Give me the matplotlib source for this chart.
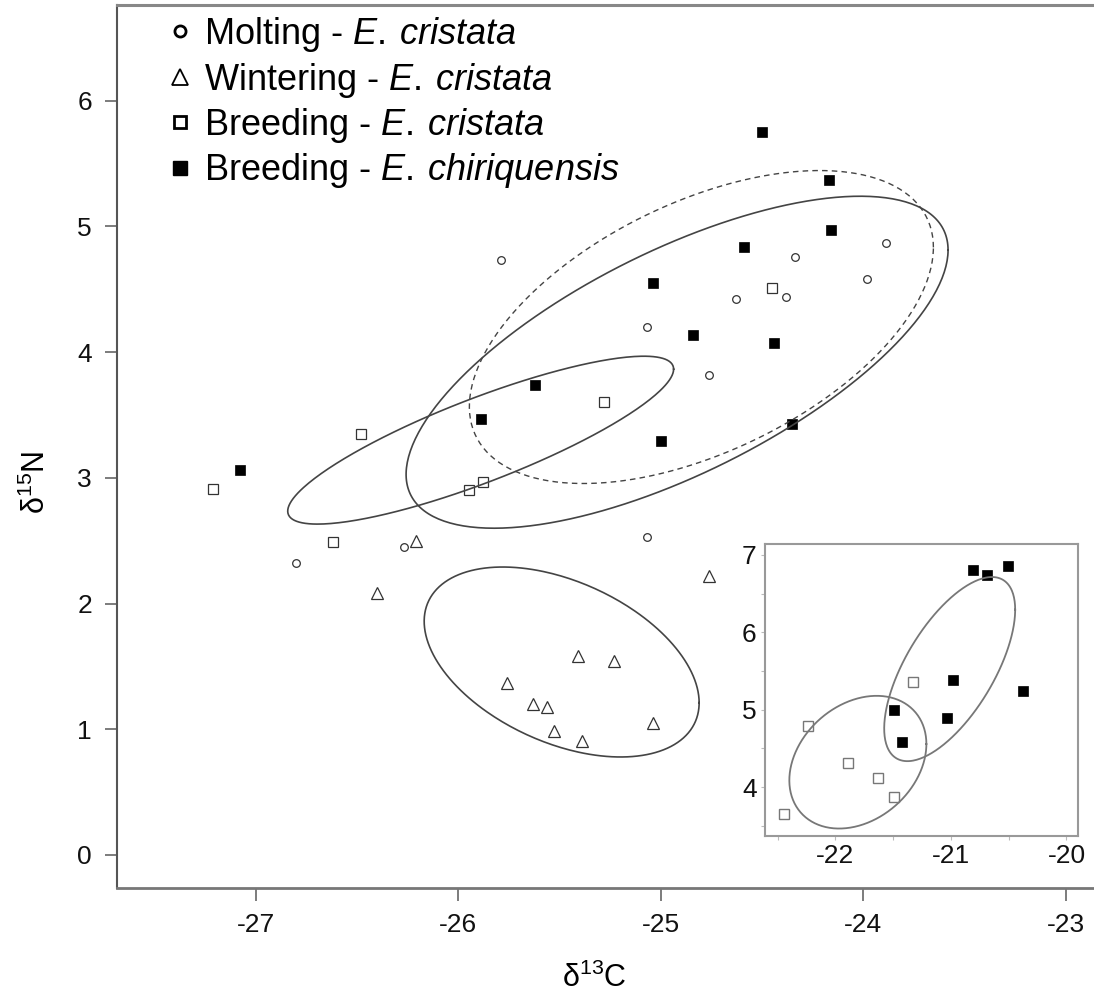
import numpy as np
import matplotlib
matplotlib.use("Agg")
import matplotlib.pyplot as plt
from matplotlib.lines import Line2D

plt.rcParams['font.family'] = ['Liberation Sans', 'DejaVu Sans']
plt.rcParams['mathtext.fontset'] = 'custom'
plt.rcParams['mathtext.rm'] = 'Liberation Sans'
plt.rcParams['mathtext.it'] = 'Liberation Sans:italic'
plt.rcParams['axes.unicode_minus'] = False

# main panel data (d13C, d15N)
molt_x = [-26.80, -26.27, -25.07, -25.07, -25.79, -24.34, -23.89, -23.98, -24.63, -24.38, -24.76]
molt_y = [2.32, 2.45, 2.53, 4.20, 4.73, 4.76, 4.87, 4.58, 4.42, 4.44, 3.82]

wint_x = [-26.40, -26.21, -24.76, -25.41, -25.23, -25.76, -25.63, -25.56, -25.53, -25.39, -25.04]
wint_y = [2.08, 2.50, 2.22, 1.58, 1.54, 1.37, 1.20, 1.18, 0.99, 0.91, 1.05]

bcri_x = [-27.21, -26.48, -26.62, -25.95, -25.88, -25.28, -24.45]
bcri_y = [2.91, 3.35, 2.49, 2.90, 2.97, 3.60, 4.51]

bchi_x = [-27.08, -25.89, -25.62, -25.00, -24.50, -24.17, -24.16, -24.59, -25.04, -24.84, -24.44, -24.35]
bchi_y = [3.06, 3.47, 3.74, 3.29, 5.75, 5.37, 4.97, 4.84, 4.55, 4.14, 4.07, 3.43]

# ellipses: centre and covariance (sxx, syy, sxy)
ell_bchi = [(-24.92, 3.92), (1.791, 1.744, 1.194)]
ell_molt = [(-24.80, 4.20), (1.313, 1.550, 0.726)]
ell_bcri = [(-25.89, 3.30), (0.908, 0.446, 0.538)]
ell_wint = [(-25.49, 1.535), (0.461, 0.571, -0.220)]

# inset data
in_cri_x = [-22.445, -22.24, -21.89, -21.63, -21.49, -21.33]
in_cri_y = [3.65, 4.79, 4.31, 4.12, 3.87, 5.36]
in_chi_x = [-21.49, -21.42, -21.03, -20.98, -20.38, -20.81, -20.69, -20.51]
in_chi_y = [5.00, 4.58, 4.89, 5.38, 5.24, 6.81, 6.74, 6.86]
in_ell_cri = [(-21.806, 4.323), (0.352, 0.734, 0.139)]
in_ell_chi = [(-21.011, 5.525), (0.3215, 1.413, 0.435)]


def ellipse_pts(e):
    (cx, cy), (sxx, syy, sxy) = e
    L = np.linalg.cholesky(np.array([[sxx, sxy], [sxy, syy]]))
    t = np.linspace(0, 2 * np.pi, 300)
    xy = L @ np.vstack([np.cos(t), np.sin(t)])
    return cx + xy[0], cy + xy[1]


fig = plt.figure(figsize=(10.94, 9.93), dpi=100)
ax = fig.add_axes([117 / 1094, 105 / 993, 977 / 1094, 883 / 993])

ec = '#333333'
ax.plot(molt_x, molt_y, 'o', ms=5.5, mfc='white', mec=ec, mew=0.9, ls='none')
ax.plot(wint_x, wint_y, '^', ms=8, mfc='white', mec=ec, mew=0.9, ls='none')
ax.plot(bcri_x, bcri_y, 's', ms=7, mfc='white', mec=ec, mew=0.9, ls='none')
ax.plot(bchi_x, bchi_y, 's', ms=6.5, mfc='black', mec='black', mew=0.5, ls='none')

for e in [ell_bchi, ell_bcri, ell_wint]:
    ex, ey = ellipse_pts(e)
    ax.plot(ex, ey, color='#444444', lw=1.2)
ex, ey = ellipse_pts(ell_molt)
ax.plot(ex, ey, color='#444444', lw=1.0, ls=(0, (4, 3)))

ax.set_xlim(-27.686, -22.861)
ax.set_ylim(-0.263, 6.762)
ax.set_xticks([-27, -26, -25, -24, -23])
ax.set_yticks([0, 1, 2, 3, 4, 5, 6])
ax.tick_params(length=9, width=1.2, color='#666666', labelsize=19, pad=9, labelcolor='#111111')
ax.spines['right'].set_visible(False)
ax.spines['left'].set_color('#555555')
ax.spines['left'].set_linewidth(1.5)
ax.spines['bottom'].set_color('#777777')
ax.spines['bottom'].set_linewidth(2)
ax.spines['top'].set_color('#888888')
ax.spines['top'].set_linewidth(2.2)

ax.set_xlabel('δ$^{13}$C', fontsize=22)
ax.set_ylabel('δ$^{15}$N', fontsize=22)
ax.xaxis.set_label_coords((594 - 117) / 977, -(963 - 888) / 883)
ax.yaxis.set_label_coords(-(117 - 52) / 977, (888 - 482) / 883)

handles = [
    Line2D([], [], marker='o', ls='none', ms=8, mfc='white', mec='black', mew=2),
    Line2D([], [], marker='^', ls='none', ms=11, mfc='white', mec='black', mew=1.3),
    Line2D([], [], marker='s', ls='none', ms=9, mfc='white', mec='black', mew=2),
    Line2D([], [], marker='s', ls='none', ms=10, mfc='black', mec='black'),
]
labels = ['Molting - $\\mathit{E.\\:cristata}$',
          'Wintering - $\\mathit{E.\\:cristata}$',
          'Breeding - $\\mathit{E.\\:cristata}$',
          'Breeding - $\\mathit{E.\\:chiriquensis}$']
ax.legend(handles, labels, loc='upper left', bbox_to_anchor=(170 / 1094, 1 - 15 / 993),
          bbox_transform=fig.transFigure, frameon=False, fontsize=26, borderpad=0,
          handlelength=0.55, handletextpad=0.4, labelspacing=0.18, borderaxespad=0)

# inset
ins = fig.add_axes([765 / 1094, (993 - 836) / 993, 313 / 1094, 292 / 993])
ins.plot(in_cri_x, in_cri_y, 's', ms=7, mfc='white', mec='#777777', mew=1.0, ls='none')
ins.plot(in_chi_x, in_chi_y, 's', ms=7, mfc='black', mec='black', mew=0.5, ls='none')
for e in [in_ell_cri, in_ell_chi]:
    ex, ey = ellipse_pts(e)
    ins.plot(ex, ey, color='#777777', lw=1.3)
ins.set_xlim(-22.61, -19.90)
ins.set_ylim(3.37, 7.14)
ins.set_xticks([-22, -21, -20])
ins.set_yticks([4, 5, 6, 7])
ins.set_xticks([-22.5, -21.5, -20.5], minor=True)
ins.set_yticks([3.5, 4.5, 5.5, 6.5], minor=True)
ins.tick_params(which='both', length=3, width=0.8, color='#bbbbbb', labelsize=19, pad=3,
                labelcolor='#111111')
for s in ins.spines.values():
    s.set_color('#999999')
    s.set_linewidth(1.5)

fig.savefig('out.png', dpi=100)
